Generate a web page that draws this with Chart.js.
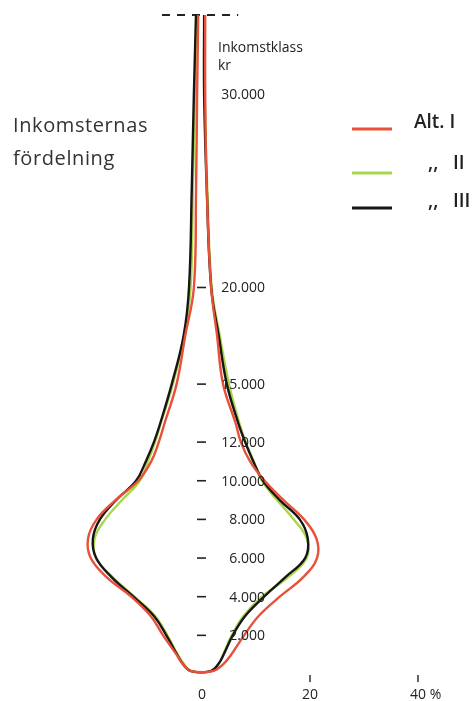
<!DOCTYPE html>
<html>
<head>
<meta charset="utf-8">
<script src="https://cdn.jsdelivr.net/npm/chart.js@4"></script>
<style>
  html, body { margin: 0; padding: 0; background: #fff; }
  #wrap { position: relative; width: 472px; height: 701px; }
</style>
</head>
<body>
<div id="wrap"><canvas id="chart"></canvas></div>
<script>
const incomeLevels = [150, 500, 1000, 2000, 3000, 4000, 5000, 6000, 7000, 8000, 9000, 10000,
  11000, 12000, 13000, 15000, 17500, 20000, 25000, 30000, 34100];

// percent offsets left / right of the centre line
const alt1Left  = [-2.0, -3.5, -4.7, -7.2, -9.5, -13.1, -17.6, -20.6, -21.1, -19.5, -16.0, -11.8,
  -9.4, -8.0, -6.9, -4.7, -3.1, -1.5, -1.1, -0.9, -0.7];
const alt1Right = [2.0, 3.9, 5.4, 7.8, 10.5, 14.4, 18.7, 21.3, 21.2, 18.9, 15.1, 11.6,
  8.9, 7.2, 6.2, 3.9, 2.8, 1.7, 0.9, 0.6, 0.6];
const alt2Left  = [-2.0, -3.3, -4.5, -6.4, -8.7, -12.5, -16.5, -19.6, -19.9, -17.9, -14.8, -11.5,
  -10.0, -8.7, -7.6, -5.4, -3.3, -2.1, -1.7, -1.3, -1.1];
const alt2Right = [1.6, 3.0, 3.9, 5.5, 7.7, 11.1, 15.9, 19.4, 19.4, 17.0, 13.9, 11.1,
  9.6, 8.1, 6.9, 5.0, 3.3, 1.8, 1.0, 0.5, 0.5];
const alt3Left  = [-2.0, -3.5, -4.6, -6.6, -8.9, -12.7, -16.7, -19.6, -20.2, -18.9, -15.9, -12.2,
  -10.4, -8.9, -7.7, -5.6, -3.4, -2.4, -1.9, -1.5, -1.1];
const alt3Right = [1.6, 3.0, 4.0, 5.7, 8.0, 11.5, 15.4, 19.1, 19.6, 18.1, 14.4, 11.3,
  9.5, 8.0, 6.7, 4.6, 3.1, 1.7, 0.9, 0.4, 0.4];

const yTicks = [2000, 4000, 6000, 8000, 10000, 12000, 15000, 20000, 30000];
const yTickLabels = ["2.000", "4.000", "6.000", "8.000", "10.000", "12.000", "15.000", "20.000", "30.000"];
const xTicks = [0, 20, 40];
const xTickLabels = ["0", "20", "40"];

const topLineX = [-7.4, 6.7];
const topIncome = 34100;

const seriesNames = ["Alt. I", ",,", ",,"];
const seriesNumerals = ["", "II", "III"];
const colors = ["#e8503a", "#a9d64c", "#161616"];

function outline(left, right) {
  const pts = [];
  for (let i = left.length - 1; i >= 0; i--) pts.push({ x: left[i], y: incomeLevels[i] });
  for (let i = 0; i < right.length; i++) pts.push({ x: right[i], y: incomeLevels[i] });
  return pts;
}

const FONT = '"Open Sans", "DejaVu Sans", sans-serif';

const decorations = {
  id: "decorations",
  afterDatasetsDraw(chart) {
    const { ctx, scales } = chart;
    const x0 = scales.x.getPixelForValue(0);
    ctx.save();
    ctx.fillStyle = "#222";
    ctx.strokeStyle = "#222";

    // y tick dashes and labels along the centre
    ctx.font = "14px " + FONT;
    ctx.textAlign = "right";
    ctx.textBaseline = "middle";
    yTicks.forEach((v, i) => {
      const y = scales.y.getPixelForValue(v);
      if (v < 30000) {
        ctx.lineWidth = 1.6;
        ctx.beginPath();
        ctx.moveTo(x0 - 5, y);
        ctx.lineTo(x0 + 4, y);
        ctx.stroke();
      }
      ctx.fillText(yTickLabels[i], x0 + 63, y + 1);
    });

    // axis title
    ctx.textAlign = "left";
    ctx.fillText("Inkomstklass", x0 + 16, 48);
    ctx.fillText("kr", x0 + 16, 66);

    // x ticks
    const yBase = scales.y.getPixelForValue(0);
    ctx.textAlign = "center";
    xTicks.forEach((v, i) => {
      const x = scales.x.getPixelForValue(v);
      if (v > 0) {
        ctx.lineWidth = 1.4;
        ctx.beginPath();
        ctx.moveTo(x, yBase + 1);
        ctx.lineTo(x, yBase + 8);
        ctx.stroke();
      }
      ctx.fillText(xTickLabels[i], x, yBase + 21);
      if (i === xTicks.length - 1) {
        const w = ctx.measureText(xTickLabels[i]).width;
        ctx.textAlign = "left";
        ctx.fillText(" %", x + w / 2, yBase + 21);
        ctx.textAlign = "center";
      }
    });

    // chart title
    ctx.fillStyle = "#333";
    ctx.font = "20px " + FONT;
    ctx.letterSpacing = "0.6px";
    ctx.textAlign = "left";
    ctx.fillText("Inkomsternas", 13, 126);
    ctx.fillText("fördelning", 13, 159);
    ctx.letterSpacing = "0px";

    // legend
    const legendY = [129, 173, 208];
    const textY = [123, 164, 202];
    ctx.font = "600 19px " + FONT;
    colors.forEach((c, i) => {
      ctx.strokeStyle = c;
      ctx.lineWidth = 3;
      ctx.beginPath();
      ctx.moveTo(352, legendY[i]);
      ctx.lineTo(392, legendY[i]);
      ctx.stroke();
      ctx.fillStyle = "#222";
      if (i === 0) {
        ctx.fillText(seriesNames[i], 414, textY[i]);
      } else {
        ctx.fillText(seriesNames[i], 428, textY[i]);
        ctx.fillText(seriesNumerals[i], 453, textY[i]);
      }
    });
    ctx.restore();
  }
};

const lineStyle = { showLine: true, pointRadius: 0, borderWidth: 2.4, tension: 0.4, fill: false, clip: false };

new Chart(document.getElementById("chart"), {
  type: "scatter",
  data: {
    datasets: [
      { ...lineStyle, label: "Alt. I", data: outline(alt1Left, alt1Right), borderColor: colors[0] },
      { ...lineStyle, label: "Alt. III", data: outline(alt3Left, alt3Right), borderColor: colors[2] },
      { ...lineStyle, label: "Alt. II", data: outline(alt2Left, alt2Right), borderColor: colors[1] },
      { ...lineStyle, label: "top", tension: 0, borderWidth: 1.8, borderColor: "#222", borderDash: [8, 7],
        data: topLineX.map(x => ({ x: x, y: topIncome })) }
    ]
  },
  options: {
    responsive: true,
    maintainAspectRatio: false,
    animation: false,
    layout: { padding: { top: 15, bottom: 27, left: 0, right: 0 } },
    plugins: { legend: { display: false }, tooltip: { enabled: false } },
    scales: {
      x: { type: "linear", min: -37.4, max: 50, display: false },
      y: { type: "linear", min: 0, max: 34100, display: false }
    }
  },
  plugins: [decorations]
});
</script>
</body>
</html>
